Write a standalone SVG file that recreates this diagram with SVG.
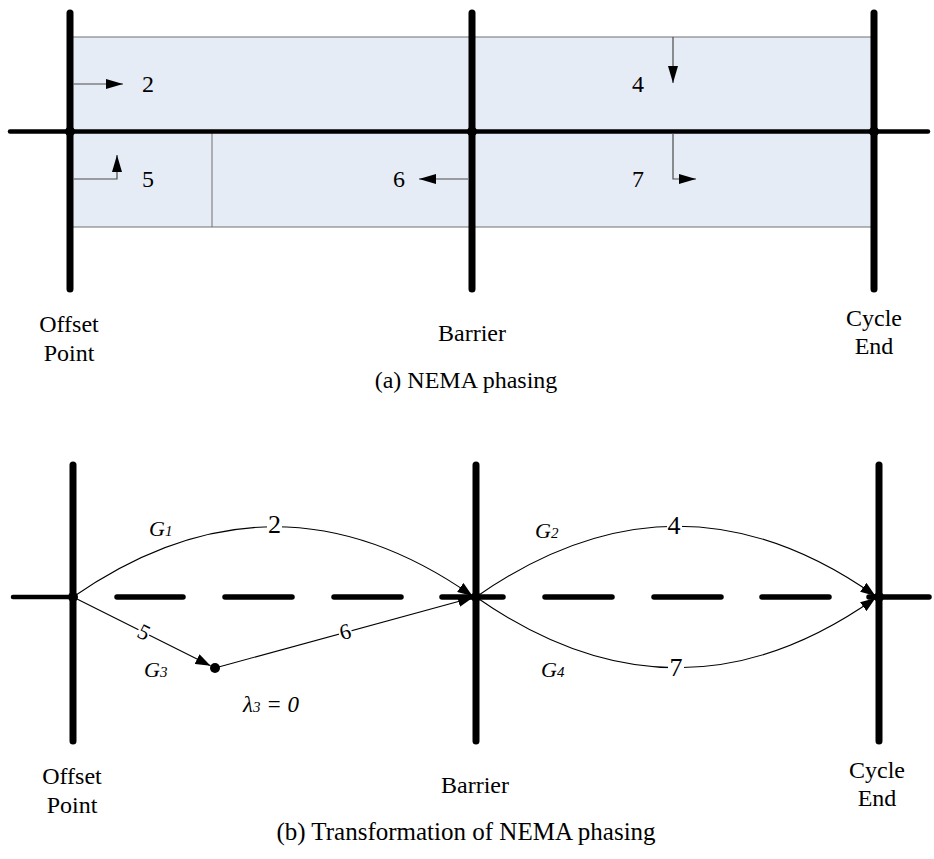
<svg xmlns="http://www.w3.org/2000/svg" width="934" height="859" viewBox="0 0 934 859">
<style>
  .t{font-family:"Liberation Serif","Times New Roman",serif;fill:#000;}
  .lbl{font-size:24px;}
  .num{font-size:24px;}
  .gi{font-size:22px;font-style:italic;}
  .sub{font-size:15px;}
  .bar{stroke:#000;stroke-width:7;stroke-linecap:round;fill:none;}
  .axis{stroke:#000;stroke-width:4.5;stroke-linecap:round;fill:none;}
  .dash{stroke:#000;stroke-width:5.5;stroke-linecap:round;fill:none;}
  .mv{stroke:#4a4a4a;stroke-width:1.2;fill:none;}
  .edge{stroke:#000;stroke-width:1.1;fill:none;}
  .mask{fill:#fff;stroke:none;}
</style>
<defs>
  <marker id="ah" markerUnits="userSpaceOnUse" markerWidth="17" markerHeight="10" refX="17" refY="5" orient="auto">
    <path d="M0,0 L17,5 L0,10 z" fill="#000"/>
  </marker>
  <marker id="ahb" markerUnits="userSpaceOnUse" markerWidth="15" markerHeight="11" refX="15" refY="5.5" orient="auto">
    <path d="M0,0 L15,5.5 L0,11 z" fill="#000"/>
  </marker>
</defs>

<!-- (a) NEMA phasing -->
<g id="panel-a">
  <rect id="ring-box" x="70" y="37" width="804" height="190" fill="#E6ECF6" stroke="#707070" stroke-width="1"/>
  <line id="divider-5-6" x1="212" y1="131" x2="212" y2="227" stroke="#707070" stroke-width="1"/>
  <line id="axis-a" class="axis" x1="10" y1="131.5" x2="928" y2="131.5"/>
  <g id="a-offset">
    <line class="bar" x1="70" y1="13" x2="70" y2="289"/>
    <circle cx="70" cy="131.5" r="5"/>
    <text class="t lbl" x="69" y="332" text-anchor="middle">Offset</text>
    <text class="t lbl" x="69" y="361" text-anchor="middle">Point</text>
  </g>
  <g id="a-barrier">
    <line class="bar" x1="472" y1="13" x2="472" y2="289"/>
    <circle cx="472" cy="131.5" r="5"/>
    <text class="t lbl" x="472" y="341" text-anchor="middle">Barrier</text>
  </g>
  <g id="a-cycle-end">
    <line class="bar" x1="874" y1="13" x2="874" y2="289"/>
    <circle cx="874" cy="131.5" r="5"/>
    <text class="t lbl" x="874" y="326" text-anchor="middle">Cycle</text>
    <text class="t lbl" x="874" y="354" text-anchor="middle">End</text>
  </g>
  <g id="phase-2">
    <line class="mv" x1="73.5" y1="84" x2="123" y2="84" marker-end="url(#ah)"/>
    <text class="t num" x="142" y="92">2</text>
  </g>
  <g id="phase-5">
    <polyline class="mv" points="73.5,179 117,179 117,155" marker-end="url(#ah)"/>
    <text class="t num" x="142" y="187">5</text>
  </g>
  <g id="phase-6">
    <line class="mv" x1="468" y1="179" x2="419" y2="179" marker-end="url(#ah)"/>
    <text class="t num" x="393" y="187">6</text>
  </g>
  <g id="phase-4">
    <line class="mv" x1="673" y1="37" x2="673" y2="83" marker-end="url(#ah)"/>
    <text class="t num" x="632" y="92">4</text>
  </g>
  <g id="phase-7">
    <polyline class="mv" points="673,133 673,179 696,179" marker-end="url(#ah)"/>
    <text class="t num" x="632" y="187">7</text>
  </g>
  <text id="caption-a" class="t lbl" x="466" y="388" text-anchor="middle">(a) NEMA phasing</text>
</g>

<!-- (b) Transformation of NEMA phasing -->
<g id="panel-b">
  <g id="b-axis">
    <line class="axis" x1="13" y1="597" x2="73" y2="597"/>
    <line class="dash" x1="117" y1="597" x2="183" y2="597"/>
    <line class="dash" x1="225" y1="597" x2="292" y2="597"/>
    <line class="dash" x1="334" y1="597" x2="401" y2="597"/>
    <line class="dash" x1="442" y1="597" x2="503" y2="597"/>
    <line class="dash" x1="545" y1="597" x2="612" y2="597"/>
    <line class="dash" x1="654" y1="597" x2="721" y2="597"/>
    <line class="dash" x1="762" y1="597" x2="829" y2="597"/>
    <line class="dash" x1="869" y1="597" x2="929" y2="597"/>
  </g>
  <g id="b-offset">
    <line class="bar" x1="73" y1="465" x2="73" y2="741"/>
    <circle cx="73" cy="597" r="5"/>
    <text class="t lbl" x="72" y="784" text-anchor="middle">Offset</text>
    <text class="t lbl" x="72" y="813" text-anchor="middle">Point</text>
  </g>
  <g id="b-barrier">
    <line class="bar" x1="476" y1="465" x2="476" y2="741"/>
    <circle cx="476" cy="597" r="5"/>
    <text class="t lbl" x="475" y="793" text-anchor="middle">Barrier</text>
  </g>
  <g id="b-cycle-end">
    <line class="bar" x1="879" y1="465" x2="879" y2="741"/>
    <circle cx="879" cy="597" r="5"/>
    <text class="t lbl" x="877" y="778" text-anchor="middle">Cycle</text>
    <text class="t lbl" x="877" y="806" text-anchor="middle">End</text>
  </g>
  <g id="b-mid-node">
    <circle cx="215" cy="668" r="5"/>
    <text class="t gi" style="font-size:23px" x="243" y="712">λ<tspan class="sub">3</tspan> = 0</text>
  </g>
  <g id="connectors">
    <path id="edge-g1" class="edge" d="M73,597 Q274.5,457 472.5,596" marker-end="url(#ahb)"/>
    <path id="edge-g2" class="edge" d="M476,597 Q677.5,456 875.5,596" marker-end="url(#ahb)"/>
    <path id="edge-g4" class="edge" d="M476,597 Q677.5,738 875.5,598" marker-end="url(#ahb)"/>
    <line id="edge-5" class="edge" x1="73" y1="597" x2="210.5" y2="665.8" marker-end="url(#ahb)"/>
    <line id="edge-6" class="edge" x1="215" y1="668" x2="473" y2="597.5" marker-end="url(#ahb)"/>
    <rect class="mask" x="267" y="514" width="15" height="20"/>
    <text class="t" font-size="26" x="274.5" y="533" text-anchor="middle">2</text>
    <rect class="mask" x="667" y="514" width="15" height="20"/>
    <text class="t" font-size="26" x="674" y="534" text-anchor="middle">4</text>
    <rect class="mask" x="668" y="657" width="16" height="20"/>
    <text class="t" font-size="26" x="676" y="676" text-anchor="middle">7</text>
    <g transform="translate(144,632) rotate(26.6)">
      <rect class="mask" x="-6" y="-8" width="12" height="16"/>
      <text class="t" font-size="22" x="0" y="7.5" text-anchor="middle">5</text>
    </g>
    <g transform="translate(345,631.5) rotate(-15.2)">
      <rect class="mask" x="-6.5" y="-8" width="13" height="16"/>
      <text class="t" font-size="22" x="0" y="7.5" text-anchor="middle">6</text>
    </g>
    <text class="t gi" x="149" y="536">G<tspan class="sub">1</tspan></text>
    <text class="t gi" x="535" y="538">G<tspan class="sub">2</tspan></text>
    <text class="t gi" x="144" y="677">G<tspan class="sub">3</tspan></text>
    <text class="t gi" x="541" y="677">G<tspan class="sub">4</tspan></text>
  </g>
  <text id="caption-b" class="t lbl" style="font-size:25px" x="466" y="840" text-anchor="middle">(b) Transformation of NEMA phasing</text>
</g>
</svg>
